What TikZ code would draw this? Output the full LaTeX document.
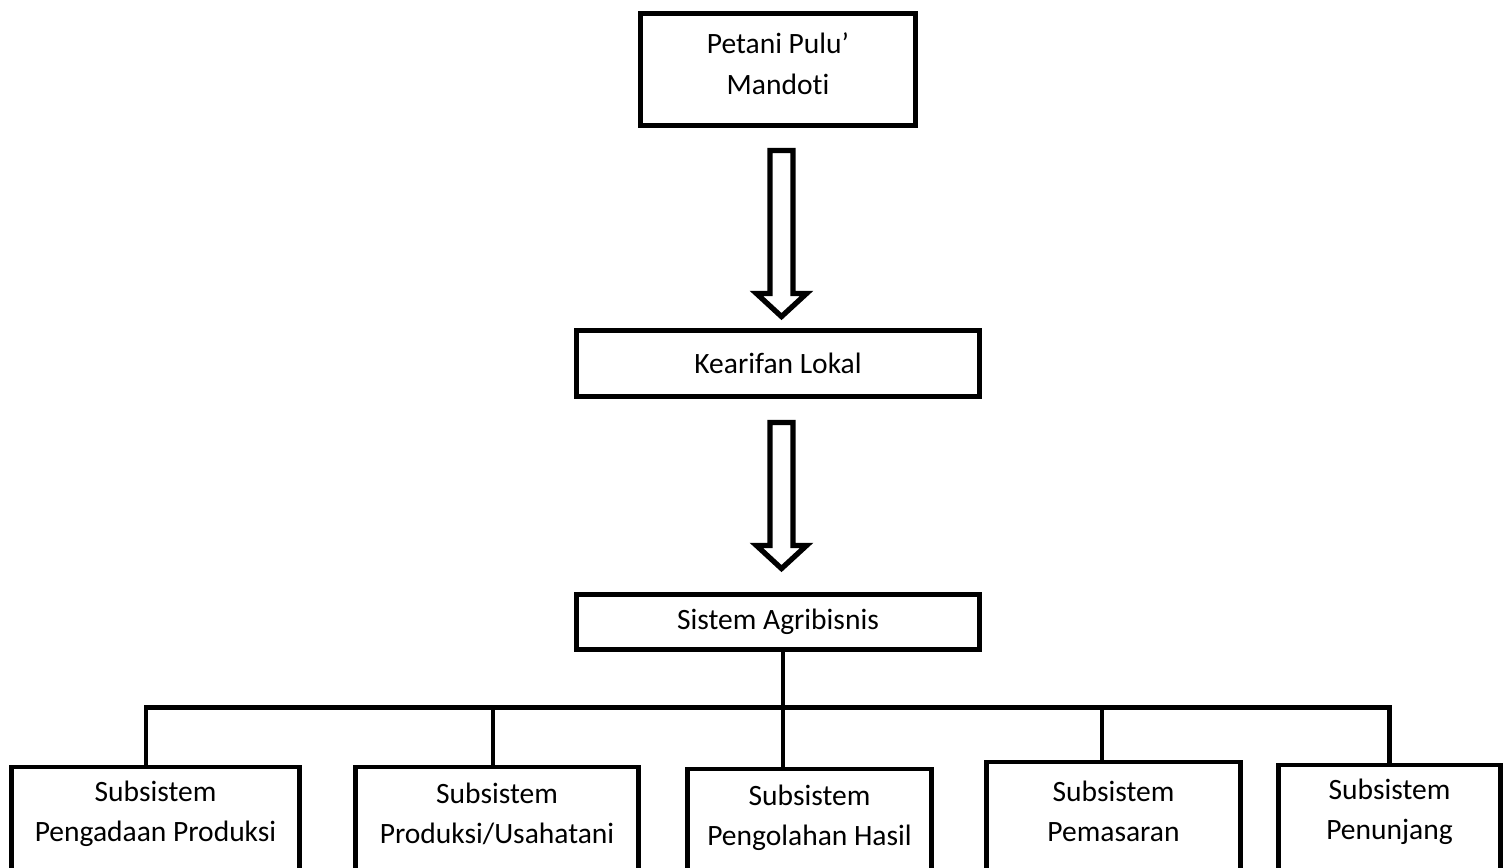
\documentclass[tikz,border=0pt]{standalone}
\usepackage{fontspec}
\setmainfont{Carlito}[Ligatures=NoCommon]
\usetikzlibrary{calc}

\newcommand{\unitpx}{0.02cm}
% hollow block arrow from shaft top #1 to tip #2 (same x)
\newcommand{\hollowarrow}[2]{%
	\draw[hollow] ($(#1)+(-11.5,0)$) -- ($(#1)+(11.5,0)$) -- ($(#2)+(11.5,-23)$) -- ($(#2)+(25,-23)$) -- (#2) -- ($(#2)+(-25,-23)$) -- ($(#2)+(-11.5,-23)$) -- cycle;}

\begin{document}
\begin{tikzpicture}[x=0.02cm,y=-0.02cm,
		box/.style={draw,line width=2.8pt,inner sep=0pt,align=center,font=\fontsize{16.8}{22.9}\selectfont},
		subbox/.style={draw,line width=2.8pt,anchor=north,minimum height=130*\unitpx},
		subtext/.style={align=center,font=\fontsize{16.8}{22.9}\selectfont},
		hollow/.style={line width=3pt,line join=miter,fill=white},
		conn/.style={line width=2.8pt,line join=miter}]
	\useasboundingbox (0,0) rectangle (1509,867);
	\clip (0,0) rectangle (1509,867);
	% upper chain
	\node[box,minimum width=275*\unitpx,minimum height=112*\unitpx,text depth=12*\unitpx] (pet) at (778,69.5) {Petani Pulu’\\Mandoti};
	\node[box,minimum width=403*\unitpx,minimum height=66*\unitpx] (kea) at (778,363.5) {Kearifan Lokal};
	\node[box,minimum width=403*\unitpx,minimum height=55*\unitpx] (sis) at (778,622) {Sistem Agribisnis};
	\coordinate (a1s) at ($(pet.south)+(3.5,22.5)$);
	\coordinate (a1e) at ($(kea.north)+(3.5,-11.5)$);
	\coordinate (a2s) at ($(kea.south)+(3.5,23.5)$);
	\coordinate (a2e) at ($(sis.north)+(3.5,-23.5)$);
	\hollowarrow{a1s}{a1e}
	\hollowarrow{a2s}{a2e}
	% subsystems
	\node[subbox,minimum width=288*\unitpx] (b1) at (155.5,764.5) {};
	\node[subbox,minimum width=283*\unitpx] (b2) at (497,764.5) {};
	\node[subbox,minimum width=244*\unitpx] (b3) at (809.5,766.5) {};
	\node[subbox,minimum width=254*\unitpx] (b4) at (1113.5,759.5) {};
	\node[subbox,minimum width=222*\unitpx] (b5) at (1389.5,762.5) {};
	\node[subtext] (t1) at ($(b1.north)+(0,49.5)$) {Subsistem\\Pengadaan Produksi};
	\node[subtext] (t2) at ($(b2.north)+(0,49.5)$) {Subsistem\\Produksi/Usahatani};
	\node[subtext] (t3) at ($(b3.north)+(0,51)$) {Subsistem\\Pengolahan Hasil};
	\node[subtext] (t4) at ($(b4.north)+(0,51.5)$) {Subsistem\\Pemasaran};
	\node[subtext] (t5) at ($(b5.north)+(0,49.5)$) {Subsistem\\Penunjang};
	% tree lines
	\coordinate (busl) at (146,707.5);
	\coordinate (busr) at (1389.5,707.5);
	\coordinate (d2) at (493,707.5);
	\coordinate (d3) at (783,707.5);
	\coordinate (d4) at (1102,707.5);
	\draw[conn] (b1.north -| busl) -- (busl) -- (busr) -- (b5.north);
	\draw[conn] (sis.south -| d3) -- (b3.north -| d3);
	\draw[conn] (d2) -- (b2.north -| d2);
	\draw[conn] (d4) -- (b4.north -| d4);
\end{tikzpicture}
\end{document}
